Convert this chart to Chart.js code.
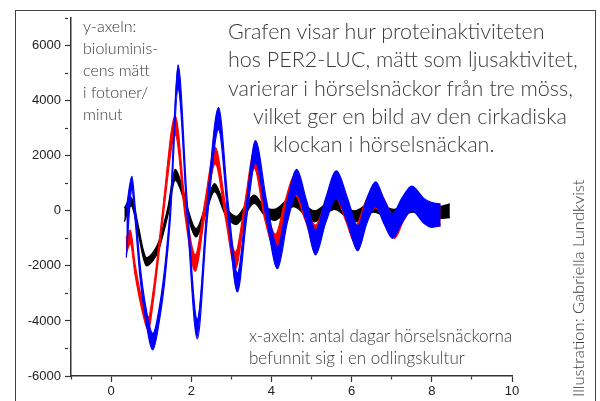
<!DOCTYPE html>
<html>
<head>
<meta charset="utf-8">
<script src="https://cdn.jsdelivr.net/npm/chart.js@4.4.1/dist/chart.umd.min.js"></script>
<style>
  body { margin: 0; background: #fff; }
  #wrap { position: relative; width: 600px; height: 401px; overflow: hidden; }
  #myChart { position: absolute; left: 0; top: 0; }
  .frame { position: absolute; left: 15px; top: 10px; width: 581px; height: 420px;
           box-sizing: border-box; border: 1px solid #444; pointer-events: none; }
  .note { position: absolute; font-family: Lato, 'Open Sans', sans-serif; font-weight: 300;
          color: #3a3a3a; white-space: nowrap; }
  .title { font-size: 21.5px; line-height: 28px; }
  .small { font-size: 16px; line-height: 22px; }
  .xnote { font-size: 17px; line-height: 22px; }
  .credit { font-size: 16.5px; line-height: 19px; transform: rotate(-90deg); transform-origin: left top; }
</style>
</head>
<body>
<div id="wrap">
  <canvas id="myChart" width="600" height="401"></canvas>
  <div class="frame"></div>
  <div class="note title" style="left:228px; top:17px">Grafen visar hur proteinaktiviteten</div>
  <div class="note title" style="left:228px; top:45px">hos PER2-LUC, mätt som ljusaktivitet,</div>
  <div class="note title" style="left:228px; top:74px">varierar i hörselsnäckor från tre möss,</div>
  <div class="note title" style="left:253px; top:102px">vilket ger en bild av den cirkadiska</div>
  <div class="note title" style="left:273px; top:130px">klockan i hörselsnäckan.</div>
  <div class="note small" style="left:83px; top:15px">y-axeln:<br>bioluminis-<br>cens mätt<br>i fotoner/<br>minut</div>
  <div class="note xnote" style="left:249px; top:325px">x-axeln: antal dagar hörselsnäckorna<br>befunnit sig i en odlingskultur</div>
  <div class="note credit" style="left:569px; top:397px">Illustration: Gabriella Lundkvist</div>
</div>
<script>
// Bioluminescence traces (days, centre of band, half-width of the noise band)
const blueDays = [0.38, 0.52, 0.6, 0.72, 0.85, 1.04, 1.22, 1.35, 1.48, 1.67, 1.9, 2.15, 2.4, 2.68, 2.92, 3.15, 3.38, 3.6, 3.88, 4.15, 4.4, 4.63, 4.87, 5.1, 5.35, 5.62, 5.9, 6.15, 6.38, 6.6, 6.8, 7.02, 7.25, 7.5, 7.8, 8.0, 8.22]
const blueMid = [-800, 1000, -100, -2150, -3600, -4750, -3600, -2150, 0, 4850, 0, -4300, 0, 3350, 0, -2600, 0, 2150, 0, -1700, 0, 1050, 0, -1150, 0, 950, 0, -1000, 0, 600, 0, -550, 0, 450, 0, -150, -150]
const blueSpread = [900, 250, 250, 250, 250, 300, 250, 250, 250, 450, 300, 350, 300, 400, 300, 350, 300, 400, 350, 400, 400, 450, 400, 450, 450, 500, 450, 450, 450, 450, 450, 450, 450, 450, 450, 450, 400]

const redDays = [0.37, 0.48, 0.6, 0.8, 0.93, 1.05, 1.18, 1.3, 1.6, 1.85, 2.1, 2.33, 2.6, 2.85, 3.1, 3.33, 3.57, 3.83, 4.1, 4.33, 4.58, 4.83, 5.1, 5.35, 5.6, 5.85, 6.1, 6.35, 6.6, 6.83, 7.07, 7.3, 7.53, 7.78, 8.0, 8.22]
const redMid = [-1300, -950, -2150, -3600, -4100, -3100, -1550, 0, 3100, 0, -1900, 0, 2000, 0, -1800, 0, 1850, 0, -1150, 0, 950, 0, -870, 0, 830, 0, -870, 0, 500, 0, -600, 0, 450, 0, -200, -150]
const redSpread = [300, 250, 200, 200, 250, 200, 200, 200, 350, 250, 300, 250, 300, 250, 300, 250, 300, 300, 300, 300, 350, 300, 350, 350, 350, 350, 350, 350, 400, 350, 400, 350, 400, 350, 350, 350]

const blackDays = [0.33, 0.5, 0.68, 0.8, 0.88, 1.05, 1.18, 1.3, 1.42, 1.6, 1.78, 1.9, 2.12, 2.35, 2.58, 2.85, 3.12, 3.33, 3.57, 3.82, 4.07, 4.55, 5.07, 5.57, 6.07, 6.55, 7.05, 7.52, 8.0, 8.45]
const blackMid = [-150, 330, -700, -1550, -1850, -1650, -1300, -700, 0, 1300, 700, 0, -800, 0, 840, 0, -350, 0, 420, 0, -150, 350, -200, 250, -200, 150, -150, 150, -100, 0]
const blackSpread = [250, 150, 150, 150, 150, 150, 150, 150, 150, 200, 150, 150, 150, 150, 150, 150, 150, 150, 150, 150, 200, 200, 200, 200, 200, 200, 200, 200, 200, 250]

const xTicks = [0, 2, 4, 6, 8, 10]
const yTicks = [-6000, -4000, -2000, 0, 2000, 4000, 6000]

// each trace is drawn as a filled noise band: upper edge + lower edge filled to it
function band(days, mid, spread, color) {
    const upper = days.map((d, i) => ({x: d, y: mid[i] + spread[i]}))
    const lower = days.map((d, i) => ({x: d, y: mid[i] - spread[i]}))
    const common = {borderColor: color, backgroundColor: color, borderWidth: 1.2,
                    pointRadius: 0, cubicInterpolationMode: 'monotone'}
    return [
        {...common, data: upper, fill: false},
        {...common, data: lower, fill: '-1'}
    ]
}

Chart.defaults.font.family = "'Liberation Sans', Arial, sans-serif"
Chart.defaults.color = '#222'

const ctx = document.getElementById('myChart')
new Chart(ctx, {
    type: 'line',
    data: {
        // first datasets are drawn on top: blue, then red, then black
        datasets: [
            ...band(blueDays, blueMid, blueSpread, '#0000ff'),
            ...band(redDays, redMid, redSpread, '#ff0000'),
            ...band(blackDays, blackMid, blackSpread, '#000000')
        ]
    },
    options: {
        responsive: false,
        animation: false,
        layout: {padding: {left: 0, top: 18, right: 88, bottom: 0}},
        plugins: {legend: {display: false}, tooltip: {enabled: false}},
        scales: {
            x: {
                type: 'linear', min: -1, max: 10,
                ticks: {
                    stepSize: 1, padding: 2, font: {size: 13},
                    callback: v => xTicks.includes(v) ? String(v) : ''
                },
                grid: {
                    drawOnChartArea: false, tickLength: 6, tickColor: '#333', tickWidth: 1.2,
                    tickBorderDash: c => xTicks.includes(c.tick.value) ? [] : [3, 10]
                },
                border: {color: '#333', width: 1.5},
                afterFit: s => { s.height = 25; s.paddingLeft = 0; s.paddingRight = 0 }
            },
            y: {
                min: -6000, max: 7000,
                ticks: {
                    stepSize: 1000, padding: 4, font: {size: 13},
                    callback: v => yTicks.includes(v) ? String(v) : ''
                },
                grid: {
                    drawOnChartArea: false, tickLength: 6, tickColor: '#333', tickWidth: 1.2,
                    tickBorderDash: c => yTicks.includes(c.tick.value) ? [] : [3, 10]
                },
                border: {color: '#333', width: 1.5},
                afterFit: s => { s.width = 71; s.paddingTop = 0; s.paddingBottom = 0 }
            }
        }
    }
})
</script>
</body>
</html>
